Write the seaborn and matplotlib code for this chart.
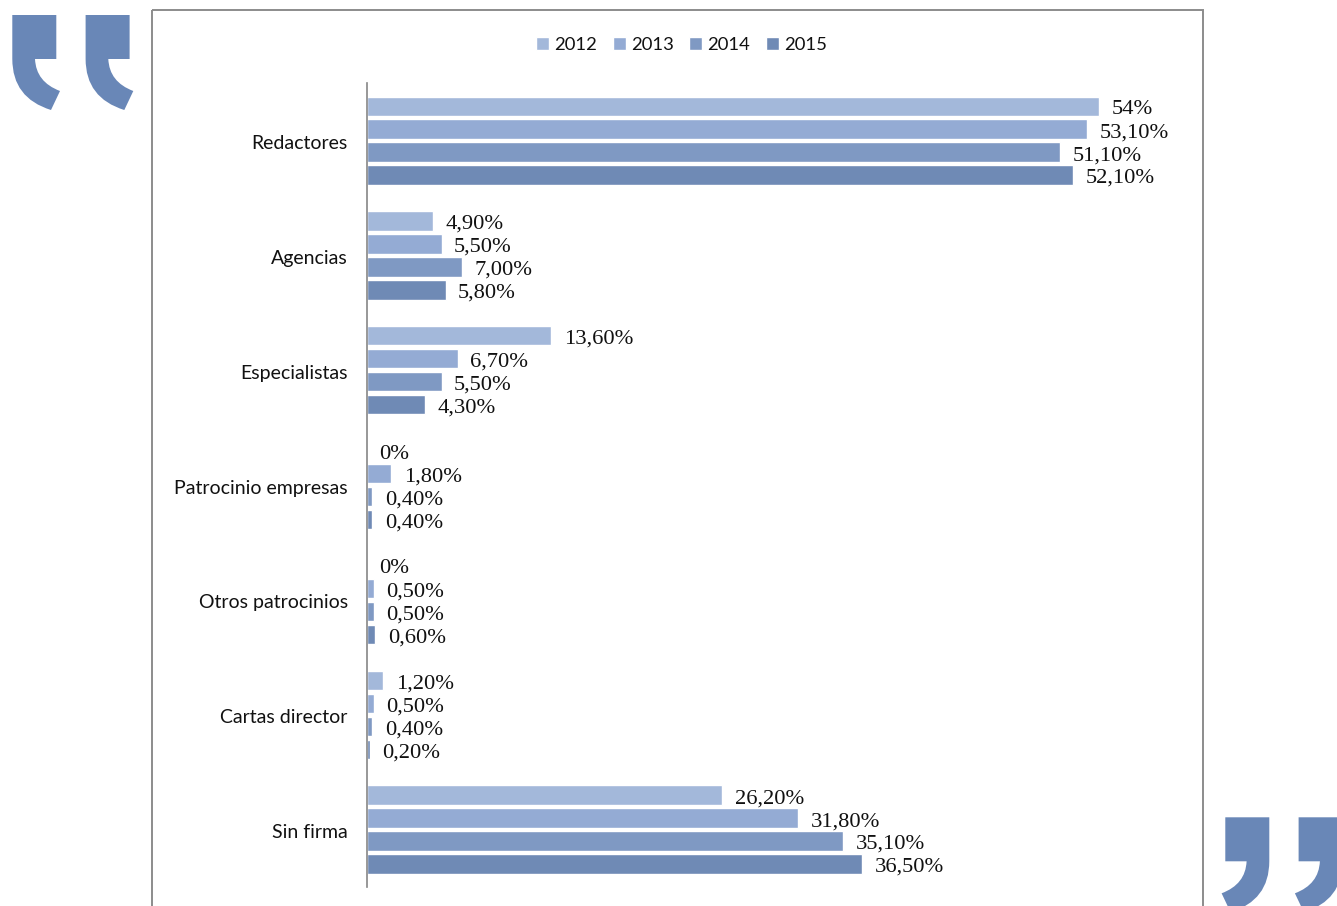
import matplotlib
matplotlib.use("Agg")
import matplotlib.pyplot as plt
import seaborn as sns
import pandas as pd
from matplotlib.path import Path
from matplotlib.patches import PathPatch, Rectangle
from matplotlib.transforms import Affine2D, ScaledTranslation

categories = ["Redactores", "Agencias", "Especialistas", "Patrocinio empresas",
              "Otros patrocinios", "Cartas director", "Sin firma"]
years = ["2012", "2013", "2014", "2015"]
v2012 = [54.0, 4.9, 13.6, 0.0, 0.0, 1.2, 26.2]
v2013 = [53.1, 5.5, 6.7, 1.8, 0.5, 0.5, 31.8]
v2014 = [51.1, 7.0, 5.5, 0.4, 0.5, 0.4, 35.1]
v2015 = [52.1, 5.8, 4.3, 0.4, 0.6, 0.2, 36.5]
l2012 = ["54%", "4,90%", "13,60%", "0%", "0%", "1,20%", "26,20%"]
l2013 = ["53,10%", "5,50%", "6,70%", "1,80%", "0,50%", "0,50%", "31,80%"]
l2014 = ["51,10%", "7,00%", "5,50%", "0,40%", "0,50%", "0,40%", "35,10%"]
l2015 = ["52,10%", "5,80%", "4,30%", "0,40%", "0,60%", "0,20%", "36,50%"]
colors = ["#A3B8DA", "#94ABD4", "#7F99C3", "#6F8AB5"]

W, H = 1337, 906
sns.set_theme(style="white")
plt.rcParams["font.family"] = ["Lato", "DejaVu Sans"]

df = pd.DataFrame({
    "cat": categories * 4,
    "year": [y for y in years for _ in categories],
    "val": v2012 + v2013 + v2014 + v2015,
})

fig = plt.figure(figsize=(W / 100, H / 100), dpi=100, facecolor="white")
ax = fig.add_axes([367 / W, 1 - 887 / H, (1203 - 367) / W, (887 - 83.2) / H])
ax.patch.set_alpha(0)

sns.barplot(data=df, y="cat", x="val", hue="year", order=categories, hue_order=years,
            palette=colors, width=0.8, gap=0.16, saturation=1, legend=False, ax=ax,
            errorbar=None, orient="h")

ax.set_xlim(0, (1203 - 367) / 13.56)
ax.set_ylim(6.5, -0.5)
ax.set_xlabel("")
ax.set_ylabel("")
ax.set_xticks([])
ax.tick_params(axis="y", length=0, pad=13.8, labelsize=14, labelcolor="#111111")
for lab in ax.get_yticklabels():
    lab.set_transform(lab.get_transform() + ScaledTranslation(0, -1.5 / 100, fig.dpi_scale_trans))
sns.despine(ax=ax, top=True, right=True, bottom=True, left=False)
ax.spines["left"].set_color("#868686")
ax.spines["left"].set_linewidth(1.2)

for cont, labs in zip(ax.containers, [l2012, l2013, l2014, l2015]):
    texts = ax.bar_label(cont, labels=labs, padding=9, fontsize=16.2, color="#111111",
                         family="Liberation Serif")
    for t in texts:
        t.set_verticalalignment("center")
        t.xyann = (t.xyann[0], -2.5)

leg = ax.legend(handles=[c[0] for c in ax.containers], labels=years,
                ncol=4, loc="center", bbox_to_anchor=(681.5 / W, 1 - 45 / H),
                bbox_transform=fig.transFigure, frameon=False, fontsize=13.3,
                handlelength=0.72, handleheight=0.72, handletextpad=0.28, columnspacing=0.82,
                labelcolor="#111111")

px = Affine2D().scale(1, -1).translate(0, H) + Affine2D().scale(1 / W, 1 / H) + fig.transFigure
fig.add_artist(Rectangle((152, 10), 1051, 1000, fill=False, edgecolor="#8C8C8C",
                         linewidth=1.4, transform=px, clip_on=True))

quote_verts = [(12.3, 15), (56.3, 15), (56.3, 59), (35, 59), (36, 82), (60, 91), (51, 110),
               (12.3, 98), (12.3, 59), (12.3, 15)]
quote_codes = [Path.MOVETO, Path.LINETO, Path.LINETO, Path.LINETO, Path.CURVE3, Path.CURVE3,
               Path.LINETO, Path.CURVE3, Path.CURVE3, Path.CLOSEPOLY]
QC = "#6987B7"
for dx in (0, 73.3):
    fig.add_artist(PathPatch(Path([(x + dx, y) for x, y in quote_verts], quote_codes),
                             facecolor=QC, edgecolor="none", transform=px))
    fig.add_artist(PathPatch(Path([(1281.6 - x + dx, y + 802.3) for x, y in quote_verts], quote_codes),
                             facecolor=QC, edgecolor="none", transform=px))

fig.savefig("out.png", dpi=100, facecolor="white")
